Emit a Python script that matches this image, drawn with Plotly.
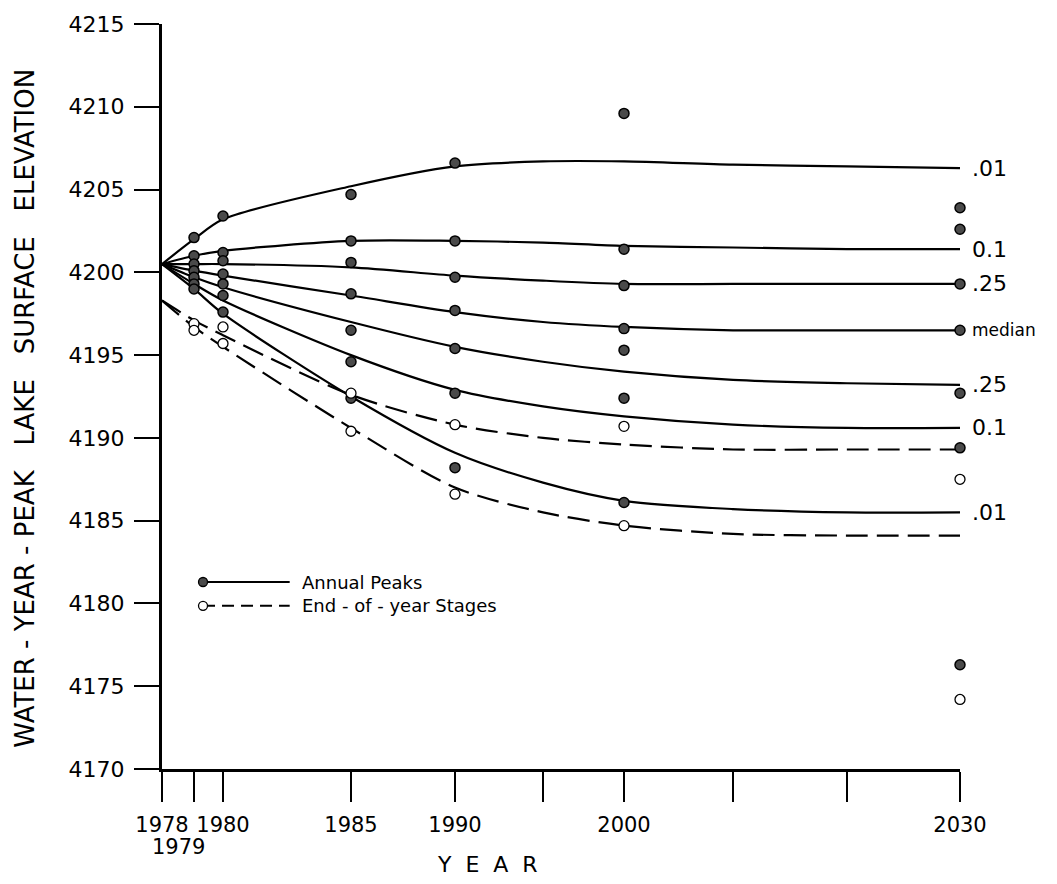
import numpy as np
import plotly.graph_objects as go

# ---------------- custom (non-linear) year scale of the original figure ----------------
SCALE_YEARS = [1978, 1979, 1980, 1985, 1990, 1995, 2000, 2010, 2020, 2030]
SCALE_UNITS = [0.0, 32.0, 61.0, 189.0, 293.0, 381.0, 462.0, 571.0, 685.0, 798.0]
TICK_YEARS = [1978, 1979, 1980, 1985, 1990, 1995, 2000, 2010, 2020, 2030]
TICK_TEXT = ["1978", "", "1980", "1985", "1990", "", "2000", "", "", "2030"]


def yr(v):
    return np.interp(np.asarray(v, dtype=float), SCALE_YEARS, SCALE_UNITS)


# ---------------- curves (annual peak exceedance curves) ----------------
CURVE_YEARS = [1978, 1979, 1980, 1985, 1990, 1995, 2000, 2010, 2020, 2030]
peak_01_up = [4200.5, 4202.0, 4203.2, 4205.2, 4206.4, 4206.7, 4206.7, 4206.5, 4206.4, 4206.3]
peak_10_up = [4200.5, 4201.0, 4201.3, 4201.9, 4201.9, 4201.8, 4201.6, 4201.5, 4201.4, 4201.4]
peak_25_up = [4200.5, 4200.5, 4200.5, 4200.3, 4199.8, 4199.5, 4199.3, 4199.3, 4199.3, 4199.3]
peak_median = [4200.5, 4200.1, 4199.8, 4198.6, 4197.6, 4197.0, 4196.7, 4196.5, 4196.5, 4196.5]
peak_25_lo = [4200.5, 4199.7, 4199.1, 4197.0, 4195.5, 4194.6, 4194.0, 4193.5, 4193.3, 4193.2]
peak_10_lo = [4200.5, 4199.3, 4198.3, 4195.0, 4192.9, 4191.9, 4191.3, 4190.8, 4190.6, 4190.6]
peak_01_lo = [4200.5, 4199.0, 4197.5, 4192.5, 4189.1, 4187.3, 4186.2, 4185.7, 4185.5, 4185.5]
# end-of-year stage curves (dashed)
stage_10 = [4198.3, 4197.1, 4196.2, 4192.6, 4190.8, 4190.0, 4189.6, 4189.3, 4189.3, 4189.3]
stage_01 = [4198.3, 4196.7, 4195.5, 4190.6, 4187.0, 4185.5, 4184.7, 4184.2, 4184.1, 4184.1]

curve_labels = [".01", "0.1", ".25", "median", ".25", "0.1", ".01"]

# ---------------- simulated points ----------------
peak_years = [1979] * 7 + [1980] * 7 + [1985] * 7 + [1990] * 7 + [2000] * 7 + [2030] * 7
peak_values = [4202.1, 4201.0, 4200.5, 4200.1, 4199.7, 4199.3, 4199.0,
               4203.4, 4201.2, 4200.7, 4199.9, 4199.3, 4198.6, 4197.6,
               4204.7, 4201.9, 4200.6, 4198.7, 4196.5, 4194.6, 4192.4,
               4206.6, 4201.9, 4199.7, 4197.7, 4195.4, 4192.7, 4188.2,
               4209.6, 4201.4, 4199.2, 4196.6, 4195.3, 4192.4, 4186.1,
               4203.9, 4202.6, 4199.3, 4196.5, 4192.7, 4189.4, 4176.3]
stage_years = [1979, 1979, 1980, 1980, 1985, 1985, 1990, 1990, 2000, 2000, 2030, 2030]
stage_values = [4196.9, 4196.5, 4196.7, 4195.7, 4192.7, 4190.4,
                4190.8, 4186.6, 4190.7, 4184.7, 4187.5, 4174.2]

Y_TICKS = list(range(4170, 4216, 5))

FONT = "DejaVu Sans"
fig = go.Figure()

solid = [peak_01_up, peak_10_up, peak_25_up, peak_median, peak_25_lo, peak_10_lo, peak_01_lo]
for vals in solid:
    fig.add_trace(go.Scatter(x=yr(CURVE_YEARS), y=vals, mode="lines",
                             line=dict(color="black", width=2.2, shape="spline", smoothing=0.8),
                             showlegend=False, hoverinfo="skip"))
for vals in [stage_10, stage_01]:
    fig.add_trace(go.Scatter(x=yr(CURVE_YEARS), y=vals, mode="lines",
                             line=dict(color="black", width=2.2, shape="spline", smoothing=0.8,
                                       dash="22px,9px"),
                             showlegend=False, hoverinfo="skip"))

fig.add_trace(go.Scatter(x=yr(peak_years), y=peak_values, mode="markers",
                         marker=dict(size=10, color="#4a4a4a", line=dict(color="black", width=1.5)),
                         showlegend=False, cliponaxis=False))
fig.add_trace(go.Scatter(x=yr(stage_years), y=stage_values, mode="markers",
                         marker=dict(size=10, color="white", line=dict(color="black", width=1.3)),
                         showlegend=False, cliponaxis=False))

# right-hand curve labels
for vals, lab in zip(solid, curve_labels):
    fig.add_annotation(x=yr(2030), y=vals[-1], text=lab, showarrow=False,
                       xanchor="left", yanchor="middle", xshift=10,
                       font=dict(family=FONT, size=17 if lab == "median" else 22, color="black"))

# 1979 tick label, set lower as in the original
fig.add_annotation(x=yr(1979), y=0, yref="paper", text="1979", showarrow=False,
                   xanchor="center", yanchor="top", xshift=-16, yshift=-64,
                   font=dict(family=FONT, size=21, color="black"))

# axis titles
fig.add_annotation(x=-0.1717, y=0.485, xref="paper", yref="paper", textangle=-90,
                   xanchor="center", yanchor="middle",
                   text="WATER - YEAR - PEAK&nbsp;&nbsp; LAKE&nbsp;&nbsp; SURFACE&nbsp;&nbsp; ELEVATION",
                   showarrow=False, font=dict(family=FONT, size=26, color="black"))
fig.add_annotation(x=0.408, y=-0.128, xref="paper", yref="paper", text="Y&nbsp; E&nbsp; A&nbsp; R",
                   showarrow=False, yanchor="middle", xanchor="center",
                   font=dict(family=FONT, size=22, color="black"))

# hand-drawn legend
lx0, lx1, tx = 0.0514, 0.160, 0.173
rows = [(0.251, "Annual Peaks", "solid", "#4a4a4a"), (0.219, "End - of - year Stages", "12px,7px", "white")]
for yy, txt, dash, fill in rows:
    fig.add_shape(type="line", xref="paper", yref="paper", x0=lx0, x1=lx1, y0=yy, y1=yy,
                  line=dict(color="black", width=2, dash=dash))
    fig.add_shape(type="circle", xref="paper", yref="paper", xsizemode="pixel", ysizemode="pixel",
                  xanchor=lx0, yanchor=yy, x0=-4.5, x1=4.5, y0=-4.5, y1=4.5,
                  fillcolor=fill, line=dict(color="black", width=1.3))
    fig.add_annotation(x=tx, y=yy, xref="paper", yref="paper", text=txt, showarrow=False,
                       xanchor="left", yanchor="middle",
                       font=dict(family=FONT, size=18, color="black"))

fig.update_layout(
    width=1057, height=884,
    margin=dict(l=162, r=97, t=16, b=115),
    paper_bgcolor="white", plot_bgcolor="white",
    font=dict(family=FONT, color="black"),
    xaxis=dict(range=[yr(1978), yr(2030)], tickvals=yr(TICK_YEARS), ticktext=TICK_TEXT,
               ticks="outside", ticklen=30, tickwidth=2, tickcolor="black",
               showline=True, linewidth=3, linecolor="black", showgrid=False, zeroline=False,
               tickfont=dict(family=FONT, size=21, color="black"), ticklabelstandoff=5),
    yaxis=dict(range=[4170, 4215], tickvals=Y_TICKS, ticks="outside", ticklen=25, tickwidth=2,
               tickcolor="black", showline=True, linewidth=3, linecolor="black",
               showgrid=False, zeroline=False,
               tickfont=dict(family=FONT, size=22, color="black"), ticklabelstandoff=5),
)

fig.write_html("out.html")
